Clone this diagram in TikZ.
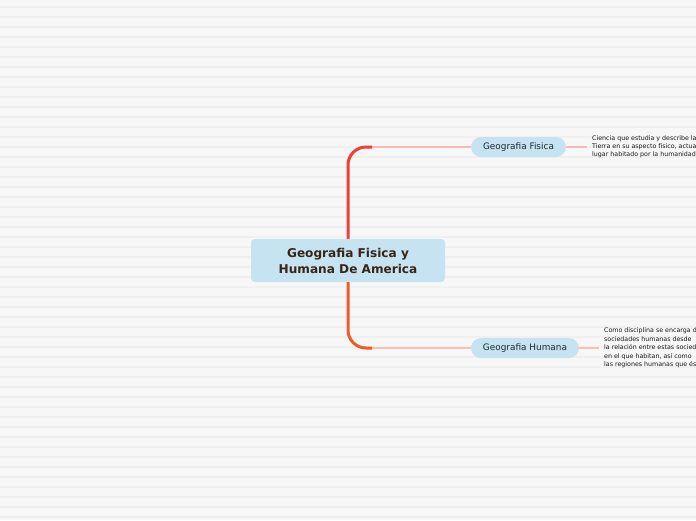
\documentclass[tikz,border=0pt]{standalone}
\usepackage{fontspec}
\setmainfont{DejaVu Sans}
\usetikzlibrary{positioning}

\definecolor{paper}{HTML}{F7F7F7}
\definecolor{stripe}{HTML}{F0F0F0}
\definecolor{topicblue}{HTML}{C5E3F0}
\definecolor{rootink}{HTML}{3A2416}
\definecolor{fisicared}{HTML}{EE4035}
\definecolor{fisicapink}{HTML}{F6B9B3}
\definecolor{humanaorange}{HTML}{F15A2B}
\definecolor{humanapink}{HTML}{F8C3AE}

\tikzset{
  rootbox/.style={fill=topicblue, rounded corners=4pt, minimum width=194pt,
    minimum height=43pt, align=center, text=rootink,
    font=\bfseries\fontsize{12.1}{16}\selectfont},
  topicpill/.style={fill=topicblue, rounded corners=10pt, minimum height=20pt,
    inner xsep=12pt, text=black!85, font=\fontsize{8.9}{10}\selectfont},
  notetext/.style={anchor=west, inner sep=5pt, align=left, text=black!90},
}

\begin{document}
\begin{tikzpicture}[x=1pt, y=-1pt]

    % Page and faint stripes
    \useasboundingbox (0,0) rectangle (696,520);
    \clip (0,0) rectangle (696,520);
    \fill[paper] (0,0) rectangle (696,520);
    \foreach \y in {7,17,...,517}
        \draw[stripe, line width=1.2pt] (0,\y) -- (696,\y);

    % Central topic
    \node[rootbox] (root) at (348,260.5) {Geografia Fisica y\\Humana De America};

    % Main topics
    \node[topicpill] (fisica) at (518.5,147) {Geografia Fisica};
    \node[topicpill] (humana) at (525,348) {Geografia Humana};

    % Notes
    \node[notetext, font=\fontsize{6.3}{8}\selectfont] (fisicanote) at (587,147)
        {Ciencia que estudia y describe la\\Tierra en su aspecto físico, actual\\lugar habitado por la humanidad};
    \node[notetext, font=\fontsize{6.3}{8.5}\selectfont] (humananote) at (599,348)
        {Como disciplina se encarga de\\sociedades humanas desde\\la relación entre estas sociedades\\en el que habitan, así como\\las regiones humanas que éstas};

    % Branches
    \coordinate (fisicaturn) at (372,147);
    \coordinate (humanaturn) at (372,348);
    \draw[fisicapink, line width=1.3pt] (fisicaturn) -- (fisica.west);
    \draw[fisicared, line width=3pt, rounded corners=18pt] (root.north) |- (fisicaturn);
    \draw[humanapink, line width=1.3pt] (humanaturn) -- (humana.west);
    \draw[humanaorange, line width=3pt, rounded corners=18pt] (root.south) |- (humanaturn);

    % Note connectors
    \draw[fisicapink, line width=1.2pt] (fisica.east) -- (fisicanote.west);
    \draw[humanapink, line width=1.2pt] (humana.east) -- (humananote.west);

\end{tikzpicture}
\end{document}
